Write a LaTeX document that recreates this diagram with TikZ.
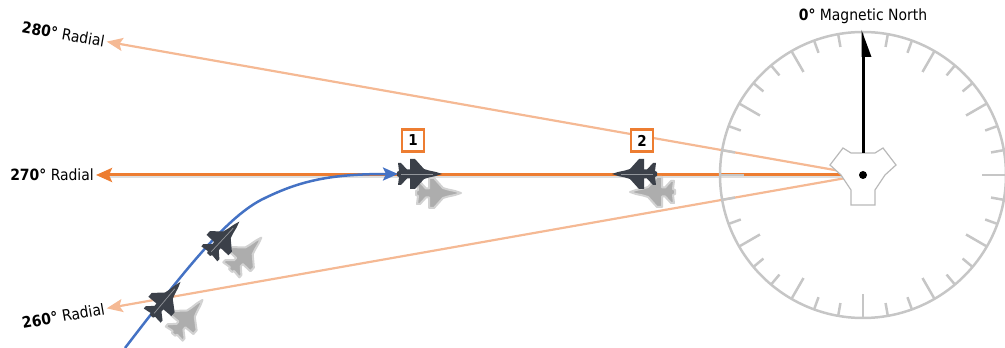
\documentclass[tikz,border=0pt]{standalone}
\usepackage{fontspec}
\setmainfont{DejaVu Sans Condensed}
\usetikzlibrary{arrows.meta,calc}

\definecolor{radialorange}{HTML}{ED7D31}
\definecolor{radiallight}{HTML}{F5B994}
\definecolor{trackblue}{HTML}{4472C4}
\definecolor{dialgray}{HTML}{C6C6C6}
\definecolor{jetdark}{HTML}{3B4049}
\definecolor{jetshade}{HTML}{ADADAD}

\tikzset{
  radial/.style={radiallight, line width=2.2pt, -{Stealth[length=16pt,width=13pt,inset=3pt]}},
  mainradial/.style={radialorange, line width=3pt, -{Stealth[length=16pt,width=14pt,inset=3pt]}},
  track/.style={trackblue, line width=2.5pt, -{Stealth[length=15pt,width=13pt,inset=3pt]}},
  dial/.style={dialgray, line width=2.5pt},
  numbox/.style={draw=radialorange, line width=2.5pt, fill=white, minimum size=22pt,
    inner sep=0pt, font=\fontsize{15}{15}\selectfont\bfseries},
  radlabel/.style={font=\fontsize{15.5}{17}\selectfont, inner sep=2pt},
  jetbody/.style={fill=jetdark},
  jetshadow/.style={fill=jetshade, draw=jetshade!55, line width=2pt, line join=round},
  jetstripe/.style={white, opacity=.45, line width=.7pt},
  pics/jet/.style={code={
    \fill[#1] (21,0) -- (15,2) -- (8,3.5) -- (3,5) -- (-6,15) -- (-11,15) -- (-11,4.5)
      -- (-14,4.5) -- (-20,11) -- (-23,11) -- (-22,3) -- (-24,2)
      -- (-24,-2) -- (-22,-3) -- (-23,-11) -- (-20,-11) -- (-14,-4.5)
      -- (-11,-4.5) -- (-11,-15) -- (-6,-15) -- (3,-5) -- (8,-3.5) -- (15,-2) -- cycle;
    \draw[jetstripe] (-20,0) -- (12,0);
  }}
}

\begin{document}
\begin{tikzpicture}[x=1pt,y=1pt]
  \useasboundingbox (0,0) rectangle (1005,348);

  % station and radial end points
  \coordinate (vor) at (863,173);
  \coordinate (tip280) at ($(vor)+(170:768)$);
  \coordinate (tip270) at ($(vor)+(180:767)$);
  \coordinate (tip260) at ($(vor)+(190:768)$);

  \draw[radial] (vor) -- (tip280);
  \draw[radial] (vor) -- (tip260);
  \draw[gray!25, line width=2pt] ($(vor)+(0,-2.5)$) -- ($(tip270)+(14,-2.5)$);
  \draw[mainradial] (vor) -- (tip270);

  \node[radlabel, anchor=east, rotate=-10] (lab280) at (tip280) {\textbf{280°} Radial};
  \node[radlabel, anchor=east] (lab270) at (tip270) {\textbf{270°} Radial};
  \node[radlabel, anchor=east, rotate=10] (lab260) at (tip260) {\textbf{260°} Radial};

  % ground track onto the radial
  \coordinate (start) at (125,0);
  \coordinate (join) at (398,174);
  \draw[track] (start) .. controls (185,78) and (228,133) .. (265,150)
    .. controls (300,167) and (330,174) .. (join);

  % jets with their shadows
  \pic[rotate=50, jetstripe/.style={opacity=0}] (shA) at (189,32) {jet=jetshadow};
  \pic[rotate=47, jetstripe/.style={opacity=0}] (shB) at (247,95) {jet=jetshadow};
  \pic[jetstripe/.style={opacity=0}] (sh1) at (440,155) {jet=jetshadow};
  \pic[rotate=180, jetstripe/.style={opacity=0}] (sh2) at (651,156) {jet=jetshadow};
  \pic[rotate=50] (jetA) at (167,50) {jet=jetbody};
  \pic[rotate=47] (jetB) at (225,111) {jet=jetbody};
  \pic (jet1) at (421,174) {jet=jetbody};
  \pic[rotate=180] (jet2) at (633,174) {jet=jetbody};

  \node[numbox] (n1) at (413,207.5) {1};
  \node[numbox] (n2) at (642,207.5) {2};

  % compass rose
  \draw[dial] (vor) circle (143);
  \foreach \a in {0,10,...,350} {
    \pgfmathsetmacro{\ticklen}{mod(\a,30)==0 ? 24 : 13}
    \draw[dial] ($(vor)+({90-\a}:143)$) -- ($(vor)+({90-\a}:{143-\ticklen})$);
  }

  \begin{scope}[shift={(vor)}]
  \draw[gray!55, fill=white, line width=1.2pt] (-12,22) -- (12,22) -- (20,27) -- (33,10)
    -- (22,0) -- (12,-15) -- (12,-30) -- (-12,-30) -- (-12,-15) -- (-22,0)
    -- (-33,10) -- (-20,27) -- cycle;
  \draw[line width=3pt] (0,22) -- (0,120);
  \fill (-1.5,145) -- (8.5,118) -- (-1.5,118) -- cycle;
  \fill (0,0) circle (4);
  \end{scope}

  \node[radlabel] (north) at (863,332) {\textbf{0°} Magnetic North};
\end{tikzpicture}
\end{document}
